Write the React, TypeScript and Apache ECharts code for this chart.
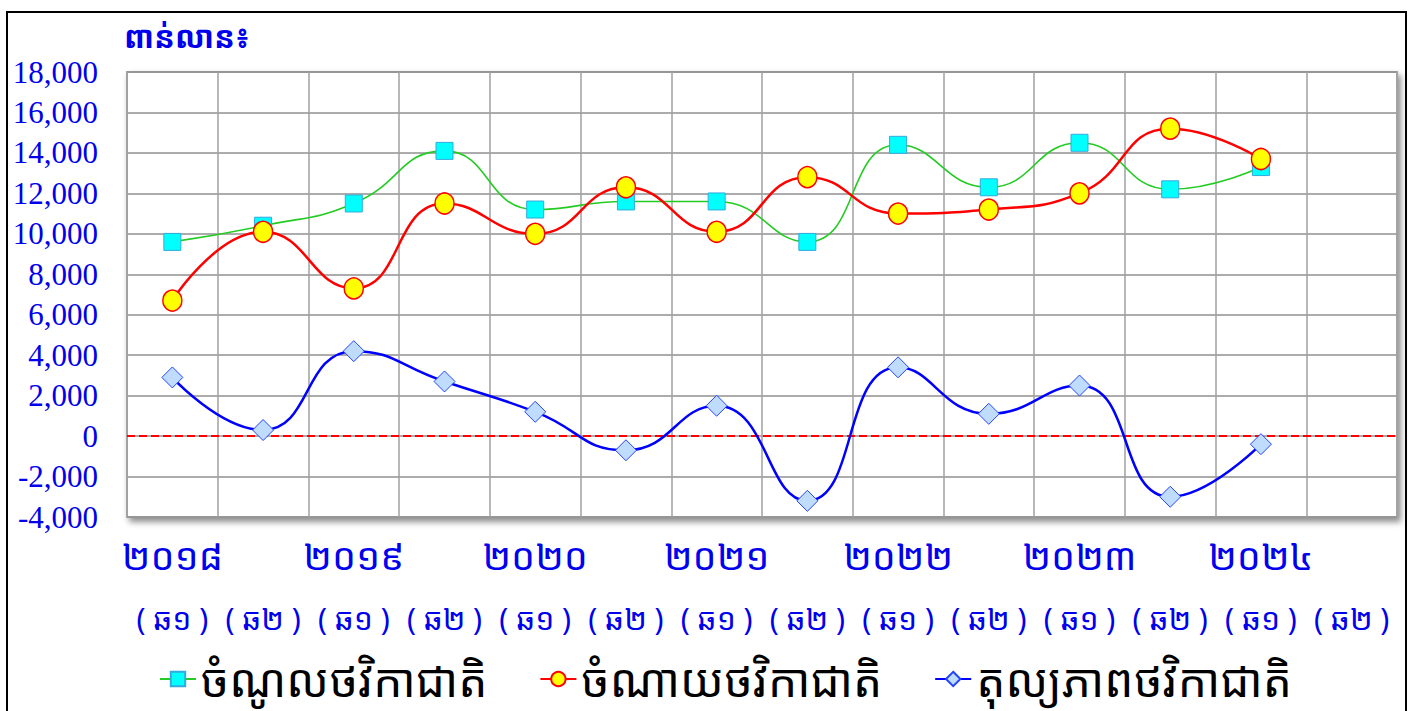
import React, { useEffect, useRef } from "react";
import * as echarts from "echarts";

const years = ["២០១៨", "២០១៩", "២០២០", "២០២១", "២០២២", "២០២៣", "២០២៤"];
const halves = ["( ឆ១ )", "( ឆ២ )"];
const seriesNames = ["ចំណូលថវិកាជាតិ", "ចំណាយថវិកាជាតិ", "តុល្យភាពថវិកាជាតិ"];
const revenue = [9600, 10400, 11500, 14100, 11200, 11600, 11600, 9600, 14400, 12300, 14500, 12200, 13300];
const expenditure = [6700, 10100, 7300, 11500, 10000, 12300, 10100, 12800, 11000, 11200, 12000, 15200, 13700];
const balance = [2900, 300, 4200, 2700, 1200, -700, 1500, -3200, 3400, 1100, 2500, -3000, -400];
const yUnit = "ពាន់លាន៖";

const KH = "'Noto Sans Khmer', 'Khmer OS', 'Noto Sans', 'DejaVu Sans', sans-serif";

export default function App() {
  const ref = useRef<HTMLDivElement>(null);
  useEffect(() => {
    if (!ref.current) return;
    const chart = echarts.init(ref.current, null, { renderer: "svg" });
    const halfCats: string[] = [];
    const yearCats: string[] = [];
    years.forEach((y) => {
      halves.forEach((h, i) => {
        halfCats.push(h);
        yearCats.push(i === 0 ? y : "");
      });
    });
    chart.setOption({
      animation: false,
      backgroundColor: "#ffffff",
      graphic: [
        {
          type: "rect",
          shape: { x: 7, y: 12, width: 1399, height: 720 },
          style: { fill: "none", stroke: "#000", lineWidth: 2 },
          z: 0,
          silent: true,
        },
        {
          type: "text",
          left: 124,
          top: 20,
          style: { text: yUnit, fill: "#0000ee", font: `bold 31px ${KH}` },
        },
      ],
      grid: {
        left: 127,
        top: 72,
        width: 1270,
        height: 445,
        show: true,
        backgroundColor: "#fff",
        borderColor: "#a8a8a8",
        borderWidth: 2,
        shadowColor: "rgba(0,0,0,0.45)",
        shadowBlur: 6,
        shadowOffsetX: 3,
        shadowOffsetY: 4,
      },
      legend: {
        data: seriesNames,
        left: 154,
        top: 651,
        itemWidth: 36,
        itemHeight: 18,
        itemGap: 52,
        textStyle: { fontSize: 46, lineHeight: 44, color: "#000", fontFamily: KH },
      },
      xAxis: [
        {
          type: "category",
          data: halfCats,
          boundaryGap: true,
          axisLine: { show: false },
          axisTick: { show: false },
          splitLine: { show: true, interval: 0, lineStyle: { color: "#a0a0a0", width: 1.5 } },
          axisLabel: { interval: 0, margin: 86, fontSize: 30, color: "#0000ee", fontFamily: KH },
        },
        {
          type: "category",
          data: yearCats,
          position: "bottom",
          boundaryGap: true,
          axisLine: { show: false },
          axisTick: { show: false },
          splitLine: { show: false },
          axisLabel: { interval: 0, margin: 19, fontSize: 38, color: "#0000ee", fontFamily: KH },
        },
      ],
      yAxis: {
        type: "value",
        min: -4000,
        max: 18000,
        interval: 2000,
        axisLine: { show: false },
        axisTick: { show: false },
        splitLine: { lineStyle: { color: "#909090", width: 1.5 } },
        axisLabel: {
          margin: 29,
          fontSize: 31,
          color: "#0000ee",
          fontFamily: "'Liberation Serif', 'Times New Roman', serif",
          formatter: (v: number) => v.toLocaleString("en-US"),
        },
      },
      series: [
        {
          name: seriesNames[0],
          type: "line",
          data: revenue,
          smooth: 0.5,
          symbol: "rect",
          symbolSize: 17,
          lineStyle: { color: "#22cc22", width: 1.6 },
          itemStyle: { color: "#00ffff", borderColor: "#33aadd", borderWidth: 1 },
          z: 3,
        },
        {
          name: seriesNames[1],
          type: "line",
          data: expenditure,
          smooth: 0.5,
          symbol: "circle",
          symbolSize: [19, 21],
          lineStyle: { color: "#ff0000", width: 2.5 },
          itemStyle: { color: "#ffff00", borderColor: "#ff0000", borderWidth: 1.5 },
          z: 4,
        },
        {
          name: seriesNames[2],
          type: "line",
          data: balance,
          smooth: 0.5,
          symbol: "diamond",
          symbolSize: 21,
          lineStyle: { color: "#0000ff", width: 2.5 },
          itemStyle: { color: "#bfdcff", borderColor: "#2244ff", borderWidth: 1 },
          z: 5,
          markLine: {
            silent: true,
            symbol: "none",
            label: { show: false },
            lineStyle: { color: "#ff0000", type: [8, 4], width: 2.2 },
            data: [{ yAxis: 0 }],
            z: 2,
          },
        },
      ],
    });
    return () => chart.dispose();
  }, []);
  return (
    <div
      ref={ref}
      style={{ position: "fixed", left: 0, top: 0, width: 1412, height: 711 }}
    />
  );
}
